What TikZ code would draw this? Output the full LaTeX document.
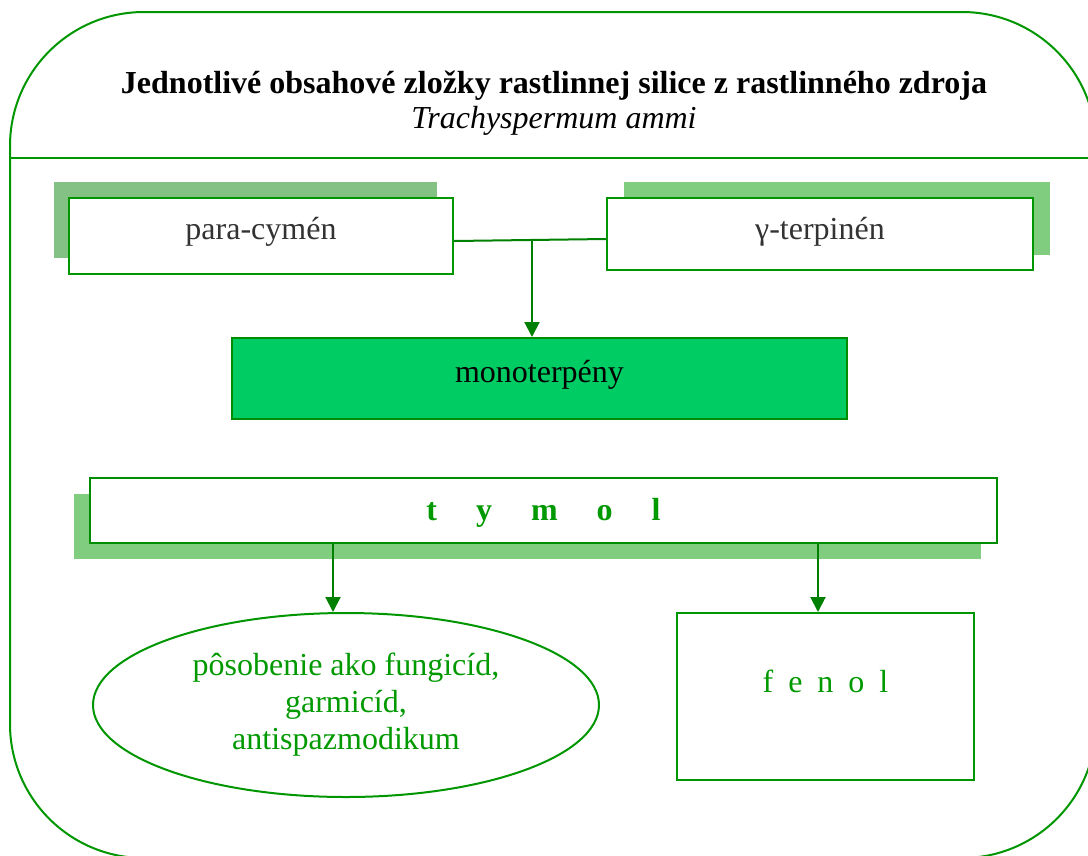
\documentclass[tikz,border=0pt]{standalone}
\usepackage{fontspec}
\setmainfont{Liberation Serif}
\usetikzlibrary{arrows.meta,shapes.geometric}
\definecolor{lineG}{RGB}{0,150,0}
\definecolor{arrG}{RGB}{0,128,0}
\definecolor{shadA}{RGB}{132,193,132}
\definecolor{shadB}{RGB}{128,205,128}
\definecolor{monoF}{RGB}{0,204,100}
\definecolor{monoB}{RGB}{0,140,0}
\definecolor{txtG}{RGB}{0,153,0}
\definecolor{txtD}{RGB}{51,51,51}
\begin{document}
\begin{tikzpicture}[x=1pt,y=-1pt,
  frame/.style={draw=lineG, line width=2pt, rounded corners=134pt, minimum width=1086pt, minimum height=846pt, inner sep=0pt},
  shadowbox/.style={fill=#1, draw=none, inner sep=0pt},
  whitebox/.style={draw=lineG, line width=2pt, fill=white, inner sep=0pt},
  conn/.style={draw=arrG, line width=2pt},
  arr/.style={conn, -{Triangle[width=15pt,length=15pt]}},
  big/.style={font=\fontsize{32}{37}\selectfont},
]
\useasboundingbox (0,0) rectangle (1088,855);
\clip (0,0) rectangle (1088,855);
\fill[white] (0,0) rectangle (1088,855);

% outer frame and title bar
\node[frame] (frame) at (553,435) {};
\coordinate (tl) at (0,158);
\draw[draw=lineG, line width=2pt] (frame.west |- tl) -- (frame.east |- tl);
\node[font=\fontsize{32}{35}\selectfont, align=center, inner sep=0pt] (title) at (554,103)
  {\textbf{Jednotlivé obsahové zložky rastlinnej silice z rastlinného zdroja}\\\textit{Trachyspermum ammi}};

% top boxes
\node[shadowbox=shadA, minimum width=383pt, minimum height=76pt] (paraS) at (245.5,220) {};
\node[whitebox, big, text=txtD, minimum width=384pt, minimum height=76pt, text height=16pt, text depth=10pt] (para) at (261,236) {para-cymén};
\node[shadowbox=shadB, minimum width=426pt, minimum height=73pt] (gammaS) at (837,218.5) {};
\node[whitebox, big, text=txtD, minimum width=426pt, minimum height=72pt, text height=18pt, text depth=8pt] (gamma) at (820,234) {γ-terpinén};

% monoterpeny
\node[draw=monoB, fill=monoF, line width=2pt, inner sep=0pt, big, text=black, minimum width=615pt, minimum height=81pt, text height=20pt, text depth=13pt] (mono) at (539.5,378.5) {monoterpény};

\coordinate (j) at (532,240);
\draw[conn] ([yshift=-5pt]para.east) -- ([yshift=-5pt]gamma.west);
\draw[arr] (j) -- (mono.north -| j);

% tymol
\node[shadowbox=shadB, minimum width=907pt, minimum height=65pt] (tymolS) at (527.5,526.5) {};
\node[whitebox, line width=2.5pt, draw=monoB, big, text=txtG, minimum width=907pt, minimum height=65pt, text height=24pt, text depth=5pt, font=\fontsize{32}{37}\selectfont\bfseries] (tymol) at (543.5,510.5)
  {t\hspace{39pt}y\hspace{39pt}m\hspace{39pt}o\hspace{39pt}l};

% bottom
\node[ellipse, draw=lineG, line width=2pt, inner sep=0pt, minimum width=506pt, minimum height=184pt, big, text=txtG, align=center] (ell) at (346,705)
  {pôsobenie ako fungicíd,\\garmicíd,\\antispazmodikum};
\node[whitebox, big, text=txtG, minimum width=297pt, minimum height=167pt, text height=10pt, text depth=19pt] (fenol) at (825.5,696.5)
  {f\hspace{15pt}e\hspace{15pt}n\hspace{15pt}o\hspace{15pt}l};

\coordinate (a1) at (333,0);
\coordinate (a2) at (818,0);
\draw[arr] (tymol.south -| a1) -- (ell.north -| a1);
\draw[arr] (tymol.south -| a2) -- (fenol.north -| a2);
\end{tikzpicture}
\end{document}
